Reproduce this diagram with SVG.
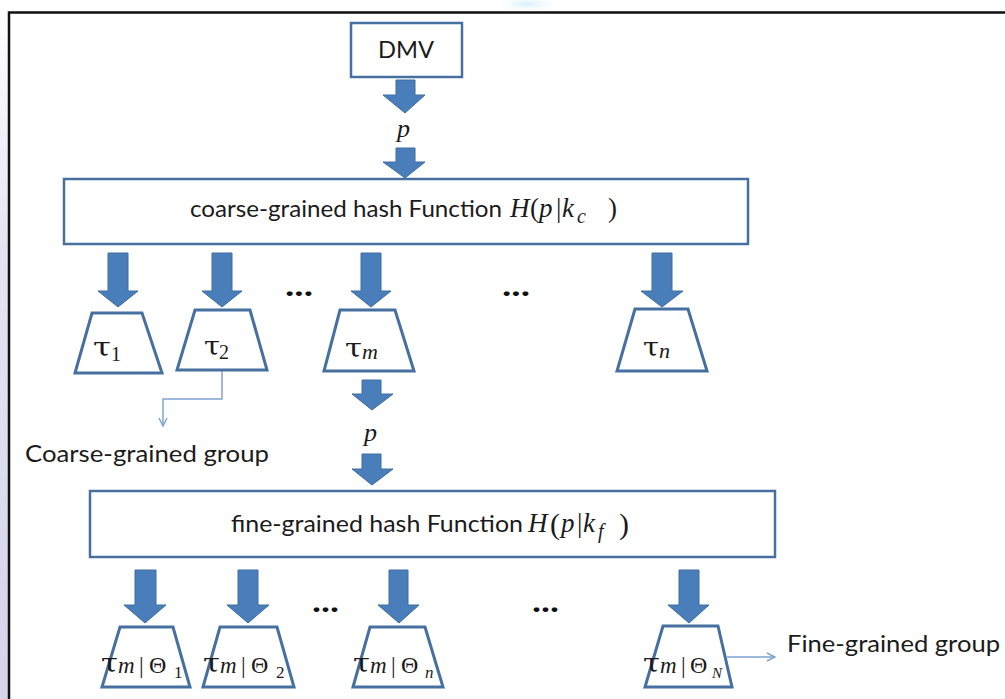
<svg xmlns="http://www.w3.org/2000/svg" width="1005" height="699" viewBox="0 0 1005 699">
  <defs>
    <style>
      .frame { fill: none; stroke: #111; stroke-width: 2.5; }
      .box { fill: #fff; stroke: #46709F; stroke-width: 2.5; }
      .trap { fill: #fff; stroke: #46709F; stroke-width: 3; stroke-linejoin: miter; }
      .blk { fill: #4A7EBB; stroke: #3E6C9E; stroke-width: 1; }
      .thin { fill: none; stroke: #7FA2D0; stroke-width: 1.5; }
      .sans { font-family: Lato, "Liberation Sans", sans-serif; font-size: 22.5px; fill: #1b1b1b; }
      .math { font-family: "Liberation Serif", "DejaVu Serif", serif; font-style: italic; fill: #1b1b1b; }
      .up { font-family: "Liberation Serif", "DejaVu Serif", serif; fill: #1b1b1b; }
      .tau { font-family: "DejaVu Serif", serif; font-size: 26px; fill: #1b1b1b; }
      .dots { font-family: Lato, "Liberation Sans", sans-serif; font-size: 30px; font-weight: bold; fill: #111; }
    </style>
    <linearGradient id="sideFade" x1="0" y1="0" x2="0" y2="1">
      <stop offset="0" stop-color="#ffffff"/>
      <stop offset="0.35" stop-color="#E6E4F2"/>
      <stop offset="1" stop-color="#D6D3EB"/>
    </linearGradient>
    <radialGradient id="topGlow" cx="0.5" cy="0.5" r="0.5">
      <stop offset="0" stop-color="#D5F0FA"/>
      <stop offset="1" stop-color="#ffffff" stop-opacity="0"/>
    </radialGradient>
    <marker id="open" viewBox="0 0 10 10" refX="9" refY="5" markerWidth="10" markerHeight="10" markerUnits="userSpaceOnUse" orient="auto">
      <path d="M1,1 L9,5 L1,9" fill="none" stroke="#7FA2D0" stroke-width="1.4"/>
    </marker>
  </defs>

  <!-- page background and frame -->
  <rect x="0" y="0" width="1005" height="699" fill="#fff"/>
  <rect x="0" y="0" width="8" height="699" fill="url(#sideFade)"/>
  <ellipse cx="527" cy="4" rx="36" ry="9" fill="url(#topGlow)"/>
  <rect class="frame" x="9" y="12.5" width="1100" height="800"/>

  <!-- block arrows -->
  <g id="connectors">
    <!-- DMV to p -->
    <path class="blk" d="M396,80 H415 V95 H425 L405,113 L383,95 H396 Z"/>
    <!-- p to coarse hash -->
    <path class="blk" d="M396,148 H415 V162 H425 L405,178 L383,162 H396 Z"/>
    <!-- coarse hash to coarse groups -->
    <path class="blk" d="M108,253 H128 V291 H138 L118,307 L98,291 H108 Z"/>
    <path class="blk" d="M212,253 H232 V291 H242 L222,307 L202,291 H212 Z"/>
    <path class="blk" d="M361,253 H381 V291 H391 L371,307 L351,291 H361 Z"/>
    <path class="blk" d="M652,253 H672 V291 H683 L662,307 L641,291 H652 Z"/>
    <!-- tau_m to p -->
    <path class="blk" d="M362,380 H381 V394 H393 L372,410 L352,394 H362 Z"/>
    <!-- p to fine hash -->
    <path class="blk" d="M362,454 H381 V469 H393 L372,485 L352,469 H362 Z"/>
    <!-- fine hash to fine groups -->
    <path class="blk" d="M135,570 H156 V605 H166 L145,623 L124,605 H135 Z"/>
    <path class="blk" d="M238,570 H258 V605 H269 L248,623 L227,605 H238 Z"/>
    <path class="blk" d="M389,570 H408 V605 H419 L399,623 L378,605 H389 Z"/>
    <path class="blk" d="M679,570 H699 V605 H709 L689,623 L668,605 H679 Z"/>
    <!-- thin callouts -->
    <path class="thin" d="M222,371 V399 H163 V426" marker-end="url(#open)"/>
    <path class="thin" d="M727,657 H775" marker-end="url(#open)"/>
  </g>

  <g id="dmv">
    <rect class="box" x="351" y="23" width="111" height="54"/>
    <text class="sans" x="378" y="58" textLength="56" lengthAdjust="spacingAndGlyphs">DMV</text>
  </g>

  <g id="p-top">
    <text class="math" x="397" y="137" font-size="26">p</text>
  </g>

  <g id="coarse-hash">
    <rect class="box" x="64" y="179" width="684" height="65"/>
    <text class="sans" x="190" y="217" textLength="312" lengthAdjust="spacingAndGlyphs">coarse-grained hash Function</text>
    <text class="math" x="510" y="217" font-size="27">H</text>
    <text class="up" x="530" y="217" font-size="27">(</text>
    <text class="math" x="539" y="217" font-size="27">p</text>
    <text class="up" x="556" y="217" font-size="27">|</text>
    <text class="math" x="562" y="217" font-size="27">k</text>
    <text class="math" x="577" y="223" font-size="20">c</text>
    <text class="up" x="608" y="217" font-size="27">)</text>
  </g>

  <g id="dots-row1">
    <text class="dots" x="285" y="296" textLength="28" lengthAdjust="spacingAndGlyphs">...</text>
    <text class="dots" x="502" y="296" textLength="28" lengthAdjust="spacingAndGlyphs">...</text>
  </g>

  <g id="tau-1">
    <path class="trap" d="M92,313 H142 L162,373 H75 Z"/>
    <text class="tau" x="93" y="356" textLength="18" lengthAdjust="spacingAndGlyphs">τ</text>
    <text class="up" x="111" y="361" font-size="20">1</text>
  </g>
  <g id="tau-2">
    <path class="trap" d="M195,310 H250 L267,370 H177 Z"/>
    <text class="tau" x="204" y="355" textLength="16" lengthAdjust="spacingAndGlyphs">τ</text>
    <text class="up" x="219" y="359" font-size="20">2</text>
  </g>
  <g id="tau-m">
    <path class="trap" d="M340,310 H395 L414,371 H324 Z"/>
    <text class="tau" x="345" y="357" textLength="17" lengthAdjust="spacingAndGlyphs">τ</text>
    <text class="math" x="362" y="359" font-size="22">m</text>
  </g>
  <g id="tau-n">
    <path class="trap" d="M635,309 H688 L707,371 H617 Z"/>
    <text class="tau" x="643" y="356" textLength="16" lengthAdjust="spacingAndGlyphs">τ</text>
    <text class="math" x="659" y="358" font-size="22">n</text>
  </g>

  <g id="coarse-label">
    <text class="sans" x="25" y="462" textLength="244" lengthAdjust="spacingAndGlyphs">Coarse-grained group</text>
  </g>

  <g id="p-mid">
    <text class="math" x="364" y="441" font-size="26">p</text>
  </g>

  <g id="fine-hash">
    <rect class="box" x="90" y="491" width="685" height="66"/>
    <text class="sans" x="231" y="532" textLength="292" lengthAdjust="spacingAndGlyphs">fine-grained hash Function</text>
    <text class="math" x="528" y="532" font-size="27">H</text>
    <text class="up" x="550" y="534" font-size="30">(</text>
    <text class="math" x="561" y="532" font-size="27">p</text>
    <text class="up" x="577" y="532" font-size="27">|</text>
    <text class="math" x="583" y="532" font-size="27">k</text>
    <text class="math" x="598" y="538" font-size="20">f</text>
    <text class="up" x="619" y="534" font-size="30">)</text>
  </g>

  <g id="dots-row2">
    <text class="dots" x="312" y="612" textLength="27" lengthAdjust="spacingAndGlyphs">...</text>
    <text class="dots" x="532" y="612" textLength="27" lengthAdjust="spacingAndGlyphs">...</text>
  </g>

  <g id="fine-1">
    <path class="trap" d="M120,627 H173 L190,687 H102 Z"/>
    <text class="tau" x="101" y="672" textLength="17" lengthAdjust="spacingAndGlyphs">τ</text>
    <text class="math" x="118" y="673" font-size="23">m</text>
    <text class="up" x="139" y="673" font-size="23">|</text>
    <text class="up" x="149" y="673" font-size="24">Θ</text>
    <text class="up" x="174" y="678" font-size="17">1</text>
  </g>
  <g id="fine-2">
    <path class="trap" d="M220,627 H277 L294,687 H203 Z"/>
    <text class="tau" x="203" y="672" textLength="17" lengthAdjust="spacingAndGlyphs">τ</text>
    <text class="math" x="220" y="673" font-size="23">m</text>
    <text class="up" x="241" y="673" font-size="23">|</text>
    <text class="up" x="251" y="673" font-size="24">Θ</text>
    <text class="up" x="276" y="678" font-size="17">2</text>
  </g>
  <g id="fine-n">
    <path class="trap" d="M370,627 H425 L443,687 H353 Z"/>
    <text class="tau" x="353" y="672" textLength="17" lengthAdjust="spacingAndGlyphs">τ</text>
    <text class="math" x="370" y="673" font-size="23">m</text>
    <text class="up" x="391" y="673" font-size="23">|</text>
    <text class="up" x="401" y="673" font-size="24">Θ</text>
    <text class="math" x="425" y="678" font-size="17">n</text>
  </g>
  <g id="fine-N">
    <path class="trap" d="M663,626 H718 L732,687 H645 Z"/>
    <text class="tau" x="643" y="672" textLength="17" lengthAdjust="spacingAndGlyphs">τ</text>
    <text class="math" x="660" y="673" font-size="23">m</text>
    <text class="up" x="681" y="673" font-size="23">|</text>
    <text class="up" x="690" y="673" font-size="24">Θ</text>
    <text class="math" x="712" y="678" font-size="15">N</text>
  </g>

  <g id="fine-label">
    <text class="sans" x="787" y="652" textLength="213" lengthAdjust="spacingAndGlyphs">Fine-grained group</text>
  </g>
</svg>
